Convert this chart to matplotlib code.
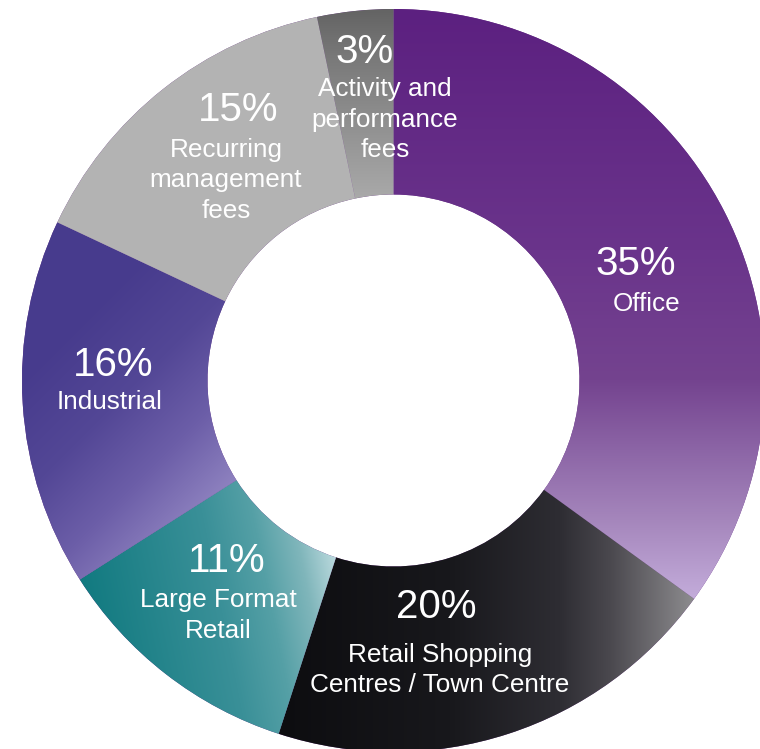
import numpy as np
import matplotlib.pyplot as plt
from matplotlib.colors import to_rgb

plt.rcParams['font.family'] = ['Liberation Sans', 'DejaVu Sans']

# data
names = ['Office', 'Retail Shopping\nCentres / Town Centre', 'Large Format\nRetail',
         'Industrial', 'Recurring\nmanagement\nfees', 'Activity and\nperformance\nfees']
shares = [35, 20, 11, 16, 14.7, 3.3]

# layout (pixel coords, y measured from the top)
W, H = 760, 749
cx, cy = 393.5, H - 380.5
r_out, r_in = 371.5, 186
pct_pos = [(636, 275), (436, 618), (227, 572), (113, 376), (238, 121), (365, 63)]
name_pos = [(647, 311), (440, 662), (218, 607), (110, 409), (226, 157), (385, 96)]
line_gap = 30.5

fig = plt.figure(figsize=(W / 100, H / 100), dpi=100)
ax = fig.add_axes([0, 0, 1, 1])
wedges, _ = ax.pie(shares, radius=r_out, center=(cx, cy), startangle=90,
                   counterclock=False, colors=['#6c358b'] * len(shares),
                   wedgeprops=dict(width=r_out - r_in, linewidth=0))

# gradient fills, clipped to each wedge
px, py = np.meshgrid(np.arange(W) + 0.5, np.arange(H) + 0.5)


def ramp(t, stops):
    pos = [s[0] for s in stops]
    cols = np.array([to_rgb(s[1]) for s in stops])
    return np.dstack([np.interp(t, pos, cols[:, k]) for k in range(3)])


fills = [
    (py, [(8, '#5c2080'), (250, '#6a348b'), (380, '#74438f'), (450, '#8c65a6'),
          (520, '#a586bc'), (600, '#c4addb')]),
    (px, [(280, '#0d0d10'), (450, '#18181c'), (560, '#2e2d33'), (610, '#4a484e'),
          (690, '#8a898c')]),
    (px - 0.2 * py, [(-36, '#117a80'), (100, '#3a9098'), (150, '#55a0a6'),
                     (190, '#80b6bb'), (225, '#bcdade')]),
    (px + py, [(400, '#473b8d'), (520, '#534796'), (620, '#6c5ea8'), (720, '#8f83c0')]),
    (py, [(0, '#b3b3b3'), (749, '#b3b3b3')]),
    (py, [(8, '#636363'), (60, '#7a7a7a'), (150, '#999999'), (195, '#a8a8a8')]),
]
for w, (t, stops) in zip(wedges, fills):
    im = ax.imshow(ramp(t, stops), extent=(0, W, 0, H), origin='upper',
                   interpolation='bilinear', zorder=2)
    im.set_clip_path(w)

for v, name, (x1, y1), (x2, y2) in zip(shares, names, pct_pos, name_pos):
    ax.text(x1, H - y1, f'{v:.0f}%', color='white', fontsize=29, ha='center',
            va='baseline', zorder=3)
    for i, line in enumerate(name.split('\n')):
        ax.text(x2, H - (y2 + i * line_gap), line, color='white', fontsize=18.8,
                ha='center', va='baseline', zorder=3)

ax.set_xlim(0, W)
ax.set_ylim(0, H)
ax.axis('off')
fig.savefig('out.png', dpi=100)
